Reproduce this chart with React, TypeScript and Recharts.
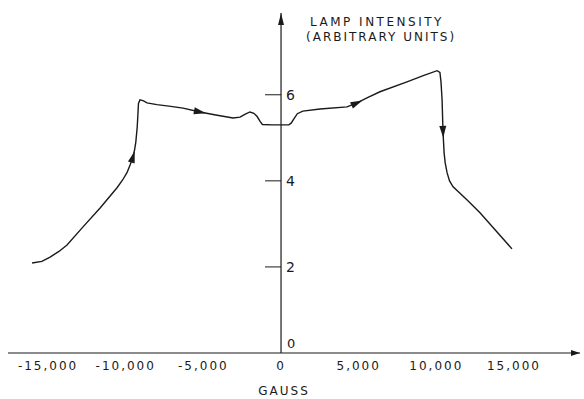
import { LineChart, Line, XAxis, YAxis, ReferenceLine, ReferenceDot } from 'recharts';

// magnetic field (gauss) and lamp intensity, traced along the sweep
const GAUSS = [
  -16030, -15400, -14870, -14300, -13780, -12750, -11650, -10560, -10200, -9920,
  -9720, -9530, -9430, -9350, -9260, -9210, -9180, -9080, -8850, -8630,
  -7990, -7100, -6310, -5220, -4200, -3090, -2640, -2300, -2000, -1750,
  -1550, -1350, -1200, -600, 0, 500, 650, 850, 1050, 1400,
  2510, 4250, 4890, 5600, 6370, 8110, 9200, 10050, 10230, 10300,
  10370, 10430, 10500, 10570, 10690, 10850, 11080, 12000, 12810, 14870,
];
const INTENSITY = [
  2.09, 2.13, 2.23, 2.36, 2.51, 2.93, 3.37, 3.84, 4.02, 4.19,
  4.37, 4.56, 4.72, 4.9, 5.25, 5.58, 5.8, 5.88, 5.86, 5.81,
  5.77, 5.73, 5.69, 5.6, 5.53, 5.46, 5.48, 5.55, 5.6, 5.57,
  5.5, 5.38, 5.31, 5.3, 5.3, 5.3, 5.34, 5.45, 5.56, 5.62,
  5.67, 5.72, 5.81, 5.94, 6.07, 6.3, 6.45, 6.56, 6.52, 6.3,
  5.88, 5.14, 4.65, 4.42, 4.19, 4.0, 3.86, 3.55, 3.26, 2.42,
];
const X_TICKS = [-15000, -10000, -5000, 0, 5000, 10000, 15000];
const Y_TICKS = [2, 4, 6];
const ARROW_AT = [-9530, -5220, 4890, 10430];

const X_DOMAIN: [number, number] = [-17580, 19250];
const Y_DOMAIN: [number, number] = [0, 7.9];

const INK = '#1a1a1a';

const data = GAUSS.map((x, i) => ({ x, y: INTENSITY[i] }));

const fmt = (v: number) => v.toLocaleString('en-US');

// arrow heads riding on the curve, pointing along the sweep
const ArrowDot = (props: any) => {
  const { cx, cy, index, points, payload } = props;
  if (!ARROW_AT.includes(payload?.x)) return <g key={`d${index}`} />;
  const prev = points?.[index - 1];
  const next = points?.[index + 1];
  const dx = prev && next ? next.x - prev.x : 1;
  const dy = prev && next ? next.y - prev.y : 0;
  const a = (Math.atan2(dy, dx) * 180) / Math.PI;
  return (
    <path
      key={`d${index}`}
      d="M6,0 L-6,-3.5 L-6,3.5 Z"
      transform={`translate(${cx},${cy}) rotate(${a})`}
      fill={INK}
    />
  );
};

export default function App() {
  return (
    <div style={{ position: 'fixed', left: 0, top: 0, background: '#fff', fontFamily: 'DejaVu Sans' }}>
      <LineChart width={584} height={399} data={data} margin={{ top: 13, right: 4, bottom: 16, left: 8 }}>
        <XAxis
          dataKey="x"
          type="number"
          domain={X_DOMAIN}
          ticks={X_TICKS}
          interval={0}
          allowDataOverflow
          tickFormatter={fmt}
          tickLine={false}
          axisLine={{ stroke: INK, strokeWidth: 1.2 }}
          tick={{ fill: INK, fontSize: 12, letterSpacing: 2 }}
          height={30}
          label={{ value: 'GAUSS', position: 'bottom', offset: 3, dx: -10, fill: INK, fontSize: 12, letterSpacing: 2 }}
        />
        <YAxis hide type="number" domain={Y_DOMAIN} allowDataOverflow />

        <ReferenceLine x={0} stroke={INK} strokeWidth={1.2} />
        {Y_TICKS.map((t) => (
          <ReferenceLine
            key={t}
            segment={[{ x: -1030, y: t }, { x: 0, y: t }]}
            stroke={INK}
            strokeWidth={1}
            label={{ value: String(t), position: 'right', offset: 5, fill: INK, fontSize: 14 }}
          />
        ))}
        <ReferenceDot
          x={0}
          y={0}
          ifOverflow="visible"
          shape={(p: any) => (
            <text x={p.cx + 6} y={p.cy - 5} fill={INK} fontSize={13}>0</text>
          )}
        />
        <ReferenceDot
          x={0}
          y={Y_DOMAIN[1]}
          ifOverflow="visible"
          shape={(p: any) => (
            <g>
              <path d={`M${p.cx},${p.cy} L${p.cx - 3},${p.cy + 12} L${p.cx + 3},${p.cy + 12} Z`} fill={INK} />
              <text x={p.cx + 29} y={p.cy + 13} fill={INK} fontSize={12} letterSpacing={2.5}>LAMP INTENSITY</text>
              <text x={p.cx + 25} y={p.cy + 28} fill={INK} fontSize={12} letterSpacing={2}>(ARBITRARY UNITS)</text>
            </g>
          )}
        />
        <ReferenceDot
          x={X_DOMAIN[1]}
          y={0}
          ifOverflow="visible"
          shape={(p: any) => (
            <path d={`M${p.cx},${p.cy} L${p.cx - 9},${p.cy - 3} L${p.cx - 9},${p.cy + 3} Z`} fill={INK} />
          )}
        />

        <Line
          dataKey="y"
          type="linear"
          stroke={INK}
          strokeWidth={1.4}
          dot={ArrowDot}
          activeDot={false}
          isAnimationActive={false}
        />
      </LineChart>
    </div>
  );
}
